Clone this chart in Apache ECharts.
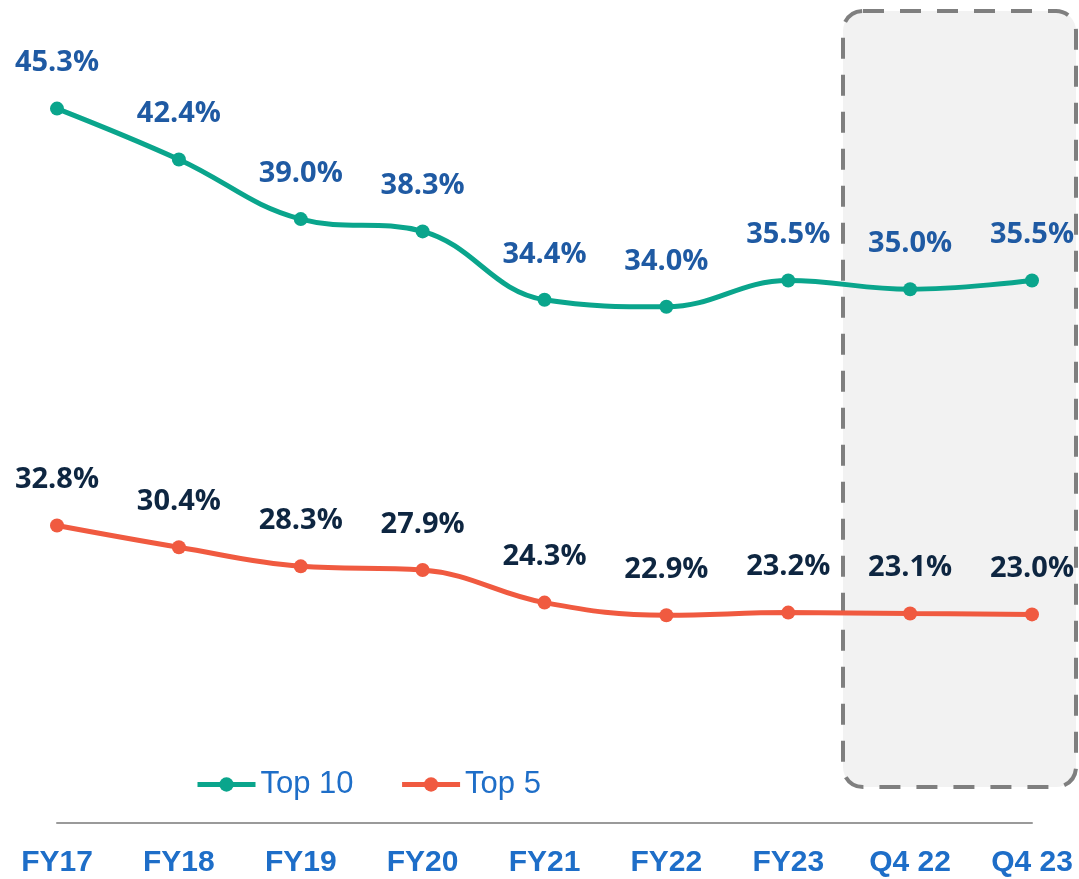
<!DOCTYPE html>
<html>
<head>
<meta charset="utf-8">
<script src="https://cdn.jsdelivr.net/npm/echarts@6/dist/echarts.min.js"></script>
<style>
  html, body { margin: 0; padding: 0; background: #fff; }
  #chart { width: 1079px; height: 879px; }
</style>
</head>
<body>
<div id="chart"></div>
<script>
// categories and series values
const categories = ['FY17', 'FY18', 'FY19', 'FY20', 'FY21', 'FY22', 'FY23', 'Q4 22', 'Q4 23'];
const top10 = [45.3, 42.4, 39.0, 38.3, 34.4, 34.0, 35.5, 35.0, 35.5];
const top5 = [32.8, 30.4, 28.3, 27.9, 24.3, 22.9, 23.2, 23.1, 23.0];

const chart = echarts.init(document.getElementById('chart'));

const labelFont = {
  fontFamily: 'Open Sans',
  fontWeight: 'bold',
  fontSize: 29
};

chart.setOption({
  animation: false,
  grid: { left: 57, right: 47, top: 100, bottom: 53 },
  legend: {
    left: 190,
    top: 764,
    itemWidth: 58,
    itemHeight: 18,
    itemGap: 46,
    lineStyle: { width: 5 },
    textStyle: { color: '#1e6ec8', fontSize: 31, fontFamily: 'Liberation Sans' },
    data: ['Top 10', 'Top 5']
  },
  // highlighted recent quarters
  graphic: [{
    type: 'rect',
    z: -10,
    silent: true,
    shape: { x: 843, y: 11, width: 233, height: 776, r: 20 },
    style: { fill: '#f2f2f2', stroke: '#7f7f7f', lineWidth: 4, lineDash: [21, 16] }
  }],
  xAxis: {
    type: 'category',
    data: categories,
    boundaryGap: false,
    axisLine: { lineStyle: { color: '#9a9a9a', width: 2 } },
    axisTick: { show: false },
    axisLabel: {
      color: '#1e6ec8',
      fontFamily: 'Liberation Sans',
      fontWeight: 'bold',
      fontSize: 30,
      margin: 22,
      interval: 0
    }
  },
  yAxis: [
    { type: 'value', min: 4.40, max: 45.79, show: false },
    { type: 'value', min: -0.33, max: 79.72, show: false }
  ],
  series: [
    {
      name: 'Top 10',
      type: 'line',
      yAxisIndex: 0,
      data: top10,
      smooth: 0.4,
      symbol: 'circle',
      symbolSize: 14,
      color: '#0aa58c',
      lineStyle: { width: 5 },
      label: Object.assign({
        show: true,
        position: 'top',
        distance: 24,
        color: '#1f5aa3',
        formatter: p => p.value.toFixed(1) + '%'
      }, labelFont)
    },
    {
      name: 'Top 5',
      type: 'line',
      yAxisIndex: 1,
      data: top5,
      smooth: 0.4,
      symbol: 'circle',
      symbolSize: 14,
      color: '#f05a40',
      lineStyle: { width: 5 },
      label: Object.assign({
        show: true,
        position: 'top',
        distance: 24,
        color: '#0e2641',
        formatter: p => p.value.toFixed(1) + '%'
      }, labelFont)
    }
  ]
});
</script>
</body>
</html>
